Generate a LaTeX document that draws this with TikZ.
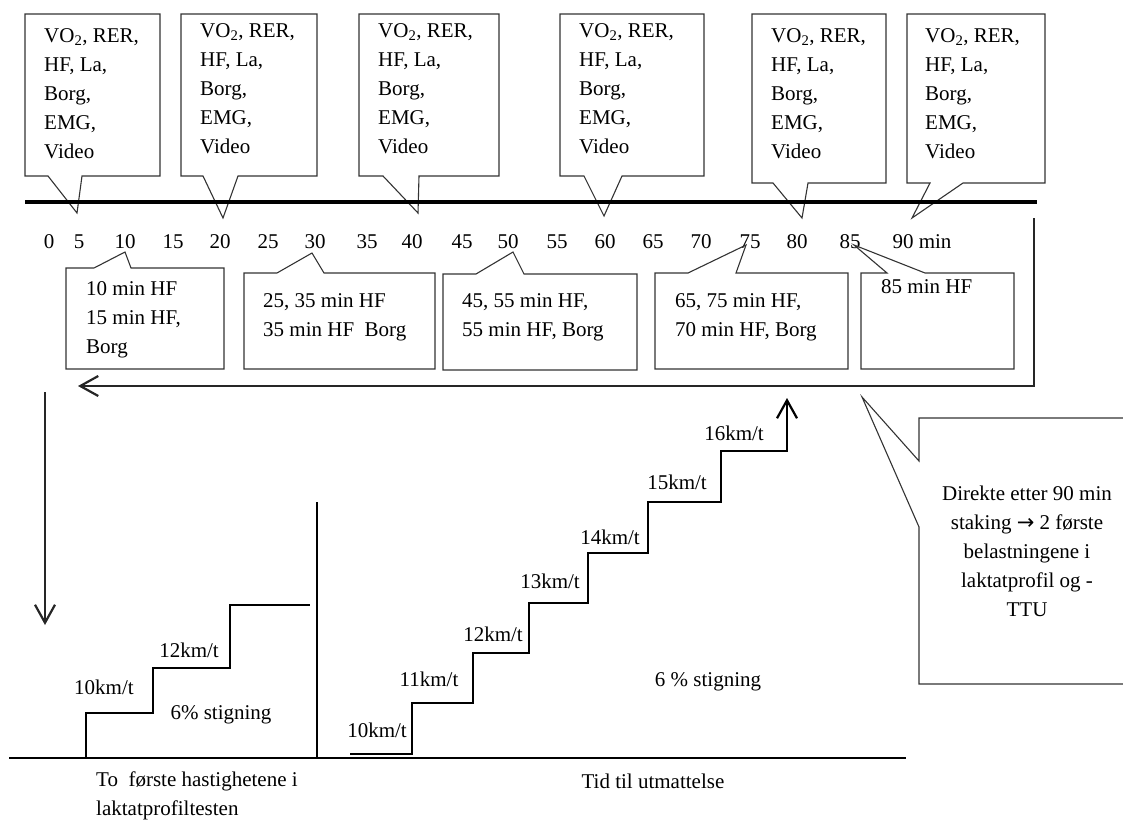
\documentclass[tikz,border=0pt]{standalone}
\usepackage{fontspec}
\setmainfont{Liberation Serif}
\newfontfamily\symfont{DejaVu Sans}
\usetikzlibrary{arrows.meta}

\newcommand{\measures}{VO\textsubscript{2}, RER,\\ HF, La,\\ Borg,\\ EMG,\\ Video}

\begin{document}
\begin{tikzpicture}[
    x=1pt, y=-1pt,
    font=\fontsize{21}{29}\selectfont,
    bubble/.style={draw=black!80, line width=1.1pt, line join=miter},
    boxtext/.style={anchor=base west, align=left, inner sep=0pt},
    marktext/.style={anchor=base, inner sep=0pt},
    timeline/.style={line width=4pt, draw=black},
    stairs/.style={line width=2.6pt, draw=black, line join=miter},
    barb/.style={-{Straight Barb[length=18pt, width=20pt, line width=2.2pt]}},
    flowarrow/.style={barb, line width=2.4pt, draw=black!85, line join=miter}
]
\useasboundingbox (0,0) rectangle (1123,819);

% measurements along the timeline (text placed at its last baseline)
\draw[bubble] (25,14) -- (160,14) -- (160,176) -- (82,176) -- (77,213) -- (48,176) -- (25,176) -- cycle;
\node[boxtext] (m5) at (44,158) {\measures};
\draw[bubble] (181,14) -- (317,14) -- (317,176) -- (238,176) -- (223,218) -- (203,176) -- (181,176) -- cycle;
\node[boxtext] (m20) at (200,153) {\measures};
\draw[bubble] (359,14) -- (499,14) -- (499,176) -- (419,176) -- (418,213) -- (383,176) -- (359,176) -- cycle;
\node[boxtext] (m40) at (378,153) {\measures};
\draw[bubble] (560,14) -- (704,14) -- (704,176) -- (622,176) -- (604,216) -- (584,176) -- (560,176) -- cycle;
\node[boxtext] (m60) at (579,153) {\measures};
\draw[bubble] (752,14) -- (886,14) -- (886,183) -- (808,183) -- (802,218) -- (773,183) -- (752,183) -- cycle;
\node[boxtext] (m80) at (771,158) {\measures};
\draw[bubble] (907,14) -- (1045,14) -- (1045,183) -- (963,183) -- (912,218) -- (930,183) -- (907,183) -- cycle;
\node[boxtext] (m90) at (925,158) {\measures};

\draw[timeline] (25,202) -- (1037,202);

\foreach \t/\x in {0/49, 5/79, 10/125, 15/173, 20/220, 25/268, 30/315, 35/367, 40/412,
                   45/462, 50/508, 55/557, 60/605, 65/653, 70/701, 75/750, 80/797, 85/850}
    \node[marktext] (t\t) at (\x,248) {\t};
\node[marktext] (t90) at (922,248) {90 min};

% heart rate boxes below the timeline
\draw[bubble] (66,369) -- (66,268) -- (94,268) -- (125,252) -- (131,268) -- (224,268) -- (224,369) -- cycle;
\node[boxtext] (hf10) at (86,353) {10 min HF\\ 15 min HF,\\ Borg};
\draw[bubble] (244,369) -- (244,273) -- (277,273) -- (312,253) -- (324,273) -- (435,273) -- (435,369) -- cycle;
\node[boxtext] (hf30) at (263,336) {25, 35 min HF\\ 35 min HF\ \ Borg};
\draw[bubble] (443,370) -- (443,274) -- (476,274) -- (513,252) -- (524,274) -- (637,274) -- (637,370) -- cycle;
\node[boxtext] (hf50) at (462,336) {45, 55 min HF,\\ 55 min HF, Borg};
\draw[bubble] (655,369) -- (655,273) -- (688,273) -- (746,245) -- (736,273) -- (848,273) -- (848,369) -- cycle;
\node[boxtext] (hf75) at (675,336) {65, 75 min HF,\\ 70 min HF, Borg};
\draw[bubble] (861,369) -- (861,273) -- (887,273) -- (854,245) -- (925,273) -- (1014,273) -- (1014,369) -- cycle;
\node[boxtext] (hf85) at (881,293) {85 min HF};

% return loop
\coordinate (loopTop) at (1034,218);
\coordinate (loopCorner) at (1034,386);
\coordinate (loopEnd) at (78,386);
\draw[flowarrow] (loopTop) -- (loopCorner) -- (loopEnd);

\coordinate (downStart) at (45,392);
\coordinate (downEnd) at (45,625);
\draw[flowarrow] (downStart) -- (downEnd);

% ground line and divider
\draw[line width=1.8pt] (9,758) -- (906,758);
\draw[line width=1.6pt] (317,502) -- (317,758);

% lactate profile, first two speeds
\draw[stairs] (86,758) -- (86,713) -- (153,713) -- (153,668) -- (230,668) -- (230,605) -- (310,605);
\node[marktext] (lp10) at (104,694) {10km/t};
\node[marktext] (lp12) at (189,657) {12km/t};
\node[marktext] (lpslope) at (221,719) {6\% stigning};
\node[boxtext] (lpcap) at (96,815) {To\ \ første hastighetene i\\ laktatprofiltesten};

% time to exhaustion
\draw[stairs, barb] (350,754) -- (412,754) -- (412,703) -- (473,703) -- (473,653) -- (529,653)
    -- (529,603) -- (588,603) -- (588,553) -- (648,553) -- (648,502) -- (721,502) -- (721,451)
    -- (787,451) -- (787,398);
\node[marktext] (tt10) at (377,737) {10km/t};
\node[marktext] (tt11) at (429,686) {11km/t};
\node[marktext] (tt12) at (493,641) {12km/t};
\node[marktext] (tt13) at (550,588) {13km/t};
\node[marktext] (tt14) at (610,544) {14km/t};
\node[marktext] (tt15) at (677,489) {15km/t};
\node[marktext] (tt16) at (734,440) {16km/t};
\node[marktext] (ttslope) at (708,686) {6 \% stigning};
\node[marktext] (ttcap) at (653,788) {Tid til utmattelse};

% note on the right
\draw[bubble] (1126,418) -- (919,418) -- (919,461) -- (862,397) -- (919,527) -- (919,684) -- (1126,684);
\node[marktext, align=center] (note) at (1027,616)
    {Direkte etter 90 min\\ staking {\symfont →} 2 første\\ belastningene i\\ laktatprofil og -\\ TTU};

\end{tikzpicture}
\end{document}
